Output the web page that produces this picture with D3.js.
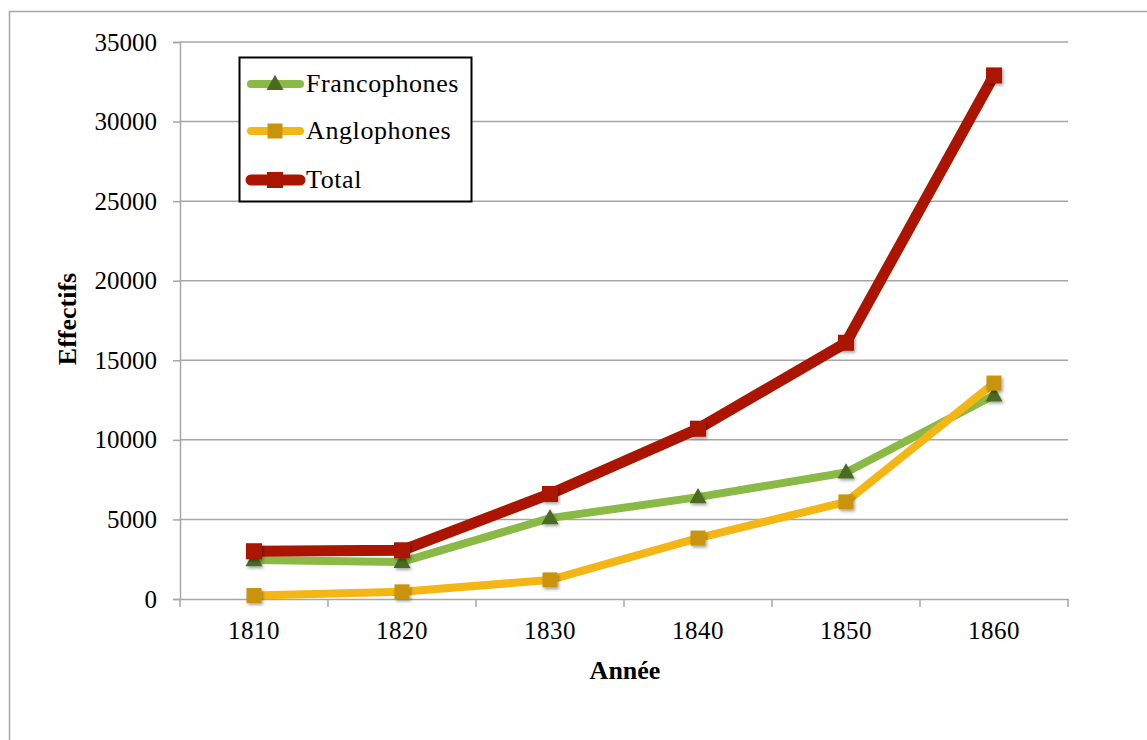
<!DOCTYPE html>
<html>
<head>
<meta charset="utf-8">
<script src="https://cdn.jsdelivr.net/npm/d3@7"></script>
<style>
  html, body { margin: 0; padding: 0; background: #fff; }
  svg { display: block; }
  svg text { font-family: "Liberation Serif", "DejaVu Serif", serif !important; fill: #000; }
</style>
</head>
<body>
<svg id="chart" width="1147" height="740"></svg>
<script>
const years = ["1810", "1820", "1830", "1840", "1850", "1860"];
const francophones = [2450, 2330, 5080, 6400, 7950, 12800];
const anglophones = [220, 450, 1200, 3830, 6100, 13570];
const total = [3000, 3060, 6600, 10700, 16100, 32900];
const yTicks = [0, 5000, 10000, 15000, 20000, 25000, 30000, 35000];
const seriesNames = ["Francophones", "Anglophones", "Total"];

const series = [
  { name: seriesNames[0], values: francophones, line: "#8aba45", marker: "#4b6b22", shape: "triangle", width: 8, size: 17 },
  { name: seriesNames[1], values: anglophones, line: "#f3b614", marker: "#c9930b", shape: "square", width: 8, size: 15 },
  { name: seriesNames[2], values: total, line: "#ab1500", marker: "#aa1500", shape: "square", width: 11, size: 16 }
];

const FONT = "'Liberation Serif', 'DejaVu Serif', serif";
const svg = d3.select("#chart");
const L = 180, R = 1068, T = 42, B = 599;

const defs = svg.append("defs");
const f = defs.append("filter").attr("id", "shadow").attr("x", "-50%").attr("y", "-50%").attr("width", "200%").attr("height", "200%");
f.append("feDropShadow").attr("dx", 1.5).attr("dy", 2).attr("stdDeviation", 1.5).attr("flood-color", "#000").attr("flood-opacity", 0.35);

svg.append("rect").attr("x", 9.5).attr("y", 11.5).attr("width", 1300).attr("height", 900)
  .attr("fill", "none").attr("stroke", "#a6a6a6").attr("stroke-width", 1.5);

const x = d3.scaleBand().domain(years).range([L, R]);
const y = d3.scaleLinear().domain([0, 35000]).range([B, T]);

svg.append("g").selectAll("line").data(yTicks.filter(d => d > 0)).join("line")
  .attr("x1", L).attr("x2", R).attr("y1", d => y(d)).attr("y2", d => y(d))
  .attr("stroke", "#a6a6a6").attr("stroke-width", 1.5);

const yAxis = svg.append("g").attr("transform", `translate(${L},0)`)
  .call(d3.axisLeft(y).tickValues(yTicks).tickSize(7).tickPadding(16).tickFormat(d3.format("d")));
yAxis.attr("font-family", null);
yAxis.select(".domain").attr("stroke", "#a6a6a6").attr("stroke-width", 1.5);
yAxis.selectAll(".tick line").attr("stroke", "#a6a6a6").attr("stroke-width", 1.5);
yAxis.selectAll(".tick text").style("font-family", FONT).style("font-size", "25px").attr("fill", "#000");

const xAxisG = svg.append("g").attr("transform", `translate(0,${B})`)
  .call(d3.axisBottom(x).tickSize(0).tickPadding(22));
xAxisG.attr("font-family", null);
xAxisG.select(".domain").attr("stroke", "#a6a6a6").attr("stroke-width", 1.5);
xAxisG.selectAll(".tick text").style("font-family", FONT).style("font-size", "25px").style("letter-spacing", "0.5px").attr("fill", "#000");
const bounds = years.map(d => x(d)).concat([R]);
xAxisG.append("g").selectAll("line").data(bounds).join("line")
  .attr("x1", d => d).attr("x2", d => d).attr("y1", 0).attr("y2", 8)
  .attr("stroke", "#a6a6a6").attr("stroke-width", 1.5);

svg.append("text").attr("transform", "translate(76,319) rotate(-90)")
  .attr("text-anchor", "middle").style("font-family", FONT).style("font-weight", "bold").style("font-size", "26px").text("Effectifs");
svg.append("text").attr("x", 625).attr("y", 679)
  .attr("text-anchor", "middle").style("font-family", FONT).style("font-weight", "bold").style("font-size", "26px").text("Année");

const cx = d => x(d) + x.bandwidth() / 2;
const line = d3.line().x((d, i) => cx(years[i])).y(d => y(d));

function drawMarker(g, shape, size, color) {
  if (shape === "square") {
    g.append("rect").attr("x", -size / 2).attr("y", -size / 2).attr("width", size).attr("height", size).attr("fill", color);
  } else {
    const h = size * 0.9;
    g.append("path").attr("d", `M0,${-h * 0.6}L${size / 2},${h * 0.4}L${-size / 2},${h * 0.4}Z`).attr("fill", color);
  }
}

series.forEach(s => {
  const g = svg.append("g");
  g.append("path").datum(s.values).attr("d", line).attr("fill", "none")
    .attr("stroke", s.line).attr("stroke-width", s.width).attr("stroke-linejoin", "round").attr("stroke-linecap", "round");
  s.values.forEach((v, i) => {
    const mg = g.append("g").attr("transform", `translate(${cx(years[i])},${y(v)})`).attr("filter", "url(#shadow)");
    drawMarker(mg, s.shape, s.size, s.marker);
  });
});

const lg = svg.append("g");
lg.append("rect").attr("x", 239.5).attr("y", 57.5).attr("width", 232).attr("height", 144)
  .attr("fill", "#fff").attr("stroke", "#000").attr("stroke-width", 2);
const legendY = [84, 131, 180];
series.forEach((s, i) => {
  const yy = legendY[i];
  lg.append("line").attr("x1", 251).attr("x2", 300).attr("y1", yy).attr("y2", yy)
    .attr("stroke", s.line).attr("stroke-width", s.width).attr("stroke-linecap", "round");
  const mg = lg.append("g").attr("transform", `translate(275,${yy})`);
  drawMarker(mg, s.shape, s.size, s.marker);
  lg.append("text").attr("x", 306).attr("y", yy + 8).style("font-family", FONT).style("font-size", "26px").style("letter-spacing", "0.6px").text(s.name);
});
</script>
</body>
</html>
